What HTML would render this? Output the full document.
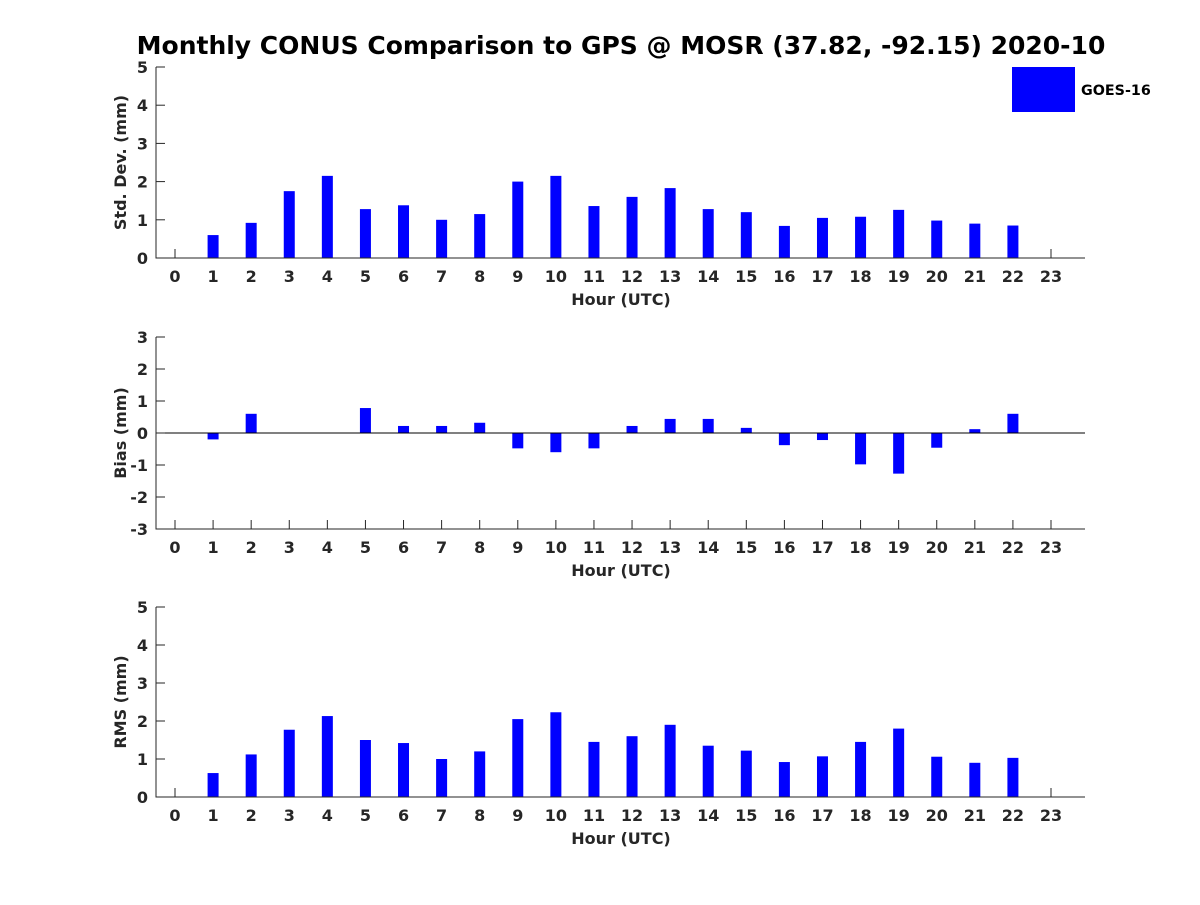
<!DOCTYPE html>
<html><head><meta charset="utf-8"><style>
body{margin:0;background:#fff}
svg text{font-family:"DejaVu Sans","Liberation Sans",sans-serif;font-weight:bold;fill:#262626}
</style></head><body>
<svg id="chart" width="1200" height="900" xmlns="http://www.w3.org/2000/svg">
<rect width="1200" height="900" fill="#fff"/>
<text x="621" y="54" text-anchor="middle" font-size="25" style="fill:#000">Monthly CONUS Comparison to GPS @ MOSR (37.82, -92.15) 2020-10</text>
<rect x="1012" y="67" width="63" height="45" fill="#0000ff"/>
<text x="1081" y="95" font-size="14.3" style="fill:#000">GOES-16</text>
</svg>
<script>
const hours = [0,1,2,3,4,5,6,7,8,9,10,11,12,13,14,15,16,17,18,19,20,21,22,23];
const stdValues = [null,0.6,0.92,1.75,2.15,1.28,1.38,1.0,1.15,2.0,2.15,1.36,1.6,1.83,1.28,1.2,0.84,1.05,1.08,1.26,0.98,0.9,0.85,null];
const biasValues = [null,-0.2,0.6,0,0,0.78,0.22,0.22,0.32,-0.48,-0.6,-0.48,0.22,0.44,0.44,0.16,-0.38,-0.22,-0.98,-1.27,-0.46,0.12,0.6,null];
const rmsValues = [null,0.63,1.12,1.77,2.13,1.5,1.42,1.0,1.2,2.05,2.23,1.45,1.6,1.9,1.35,1.22,0.92,1.07,1.45,1.8,1.06,0.9,1.03,null];
const stdTicks = [0,1,2,3,4,5];
const biasTicks = [-3,-2,-1,0,1,2,3];
const rmsTicks = [0,1,2,3,4,5];

const svg = document.getElementById('chart');
const NS = 'http://www.w3.org/2000/svg';
function mk(tag, attrs, parent){const e=document.createElementNS(NS,tag);for(const k in attrs)e.setAttribute(k,attrs[k]);(parent||svg).appendChild(e);return e;}
function xScale(h){return 175 + h*(1051-175)/23;}

function panel(name, top, bottom, ticks, values, ylabel){
  const g = mk('g',{});
  
  
  const ymin=ticks[0], ymax=ticks[ticks.length-1];
  const y = v => bottom - (v-ymin)/(ymax-ymin)*(bottom-top);
  hours.forEach(h=>{
    mk('line',{x1:xScale(h),x2:xScale(h),y1:bottom,y2:bottom-9,stroke:'#262626'},g);
    const tx=mk('text',{x:xScale(h),y:bottom+24,'text-anchor':'middle','font-size':16},g);
    tx.textContent=h;
    
    
  });
  values.forEach((v,i)=>{
    if(v===null) return;
    const x=xScale(hours[i]);
    const y0=y(Math.max(0,ymin)), y1=y(v);
    const r=mk('rect',{x:x-5.5,y:Math.min(y0,y1),width:11,height:Math.abs(y1-y0),fill:'#0000ff'},g);
    
    
  });
  if(ymin<0){ const zl=mk('line',{x1:156,x2:1085,y1:y(0),y2:y(0),stroke:'#000','stroke-width':1},g);
    
     }
  const ax=mk('path',{d:`M156 ${top} V${bottom} H1085`,stroke:'#262626',fill:'none','stroke-width':1},g);
  
  
  ticks.forEach(t=>{
    mk('line',{x1:156,x2:165,y1:y(t),y2:y(t),stroke:'#262626'},g);
    const tx=mk('text',{x:148,y:y(t)+6,'text-anchor':'end','font-size':16},g);
    tx.textContent=t;
    
    
  });
  const xl=mk('text',{x:621,y:bottom+47,'text-anchor':'middle','font-size':16},g);
  xl.textContent='Hour (UTC)';
  
  
  const yc=(top+bottom)/2;
  const yl=mk('text',{x:126,y:yc,'text-anchor':'middle','font-size':16,transform:`rotate(-90 126 ${yc})`},g);
  yl.textContent=ylabel;
  
  
}
panel('std',67,258,stdTicks,stdValues,'Std. Dev. (mm)');
panel('bias',337,529,biasTicks,biasValues,'Bias (mm)');
panel('rms',607,797,rmsTicks,rmsValues,'RMS (mm)');
</script>
</body></html>
